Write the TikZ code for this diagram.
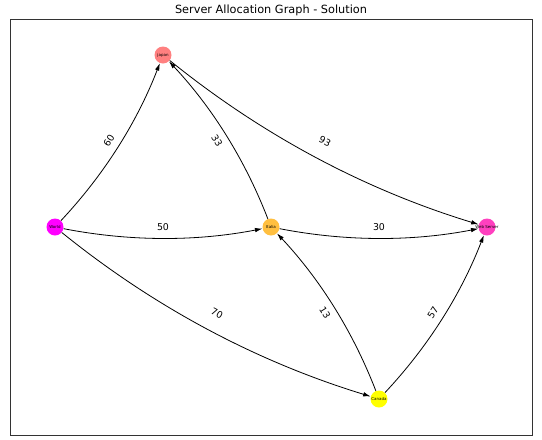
\documentclass[tikz,border=0pt]{standalone}
\usepackage{fontspec}
\setmainfont{DejaVu Sans}
\usepackage{tikz}
\usetikzlibrary{arrows.meta, positioning, calc}
\definecolor{SpringMagenta}{rgb}{1,0,1}
\definecolor{SpringSalmon}{rgb}{1,0.5,0.5}
\definecolor{SpringOrange}{rgb}{1,0.75,0.25}
\definecolor{SpringPink}{rgb}{1,0.25,0.75}
\definecolor{SpringYellow}{rgb}{1,1,0}
\definecolor{FrameGray}{HTML}{333333}

\begin{document}
\begin{tikzpicture}[x=1pt, y=-1pt,
  server/.style={circle, inner sep=0pt, minimum size=17pt,
    font=\fontsize{4}{4}\selectfont, text=black},
  link/.style={-{Latex[length=7.5pt, width=4.5pt]}, line width=0.8pt, black,
    bend right=11, looseness=0.87},
  elabel/.style={sloped, font=\fontsize{9.4}{11}\selectfont, inner sep=1pt}
]
\useasboundingbox (0,0) rectangle (542,440);

% Frame and title
\draw[FrameGray, line width=0.9pt] (10,19) rectangle (532,435);
\node[font=\fontsize{11.3}{13}\selectfont] (title) at (271,10)
  {Server Allocation Graph - Solution};

% Servers (labels may overflow the disc)
\node[server, fill=SpringSalmon] (japan)  at (163,55)  {\makebox[0pt]{japan}};
\node[server, fill=SpringMagenta] (world) at (55,227)  {\makebox[0pt]{World}};
\node[server, fill=SpringOrange] (italia) at (271,227) {\makebox[0pt]{Italia}};
\node[server, fill=SpringPink] (web)      at (487,227) {\makebox[0pt]{Web Server}};
\node[server, fill=SpringYellow] (canada) at (379,399) {\makebox[0pt]{Canada}};

% Allocations
\draw[link] (world)  to (japan);
\draw[link] (world)  to (italia);
\draw[link] (world)  to (canada);
\draw[link] (italia) to (japan);
\draw[link] (japan)  to (web);
\draw[link] (italia) to (web);
\draw[link] (canada) to (italia);
\draw[link] (canada) to (web);

% Weights
\path (world)  -- node[elabel] (w60) {60} (japan);
\path (world)  -- node[elabel] (w50) {50} (italia);
\path (world)  -- node[elabel] (w70) {70} (canada);
\path (italia) -- node[elabel] (w33) {33} (japan);
\path (japan)  -- node[elabel] (w93) {93} (web);
\path (italia) -- node[elabel] (w30) {30} (web);
\path (canada) -- node[elabel] (w13) {13} (italia);
\path (canada) -- node[elabel] (w57) {57} (web);

\end{tikzpicture}
\end{document}
